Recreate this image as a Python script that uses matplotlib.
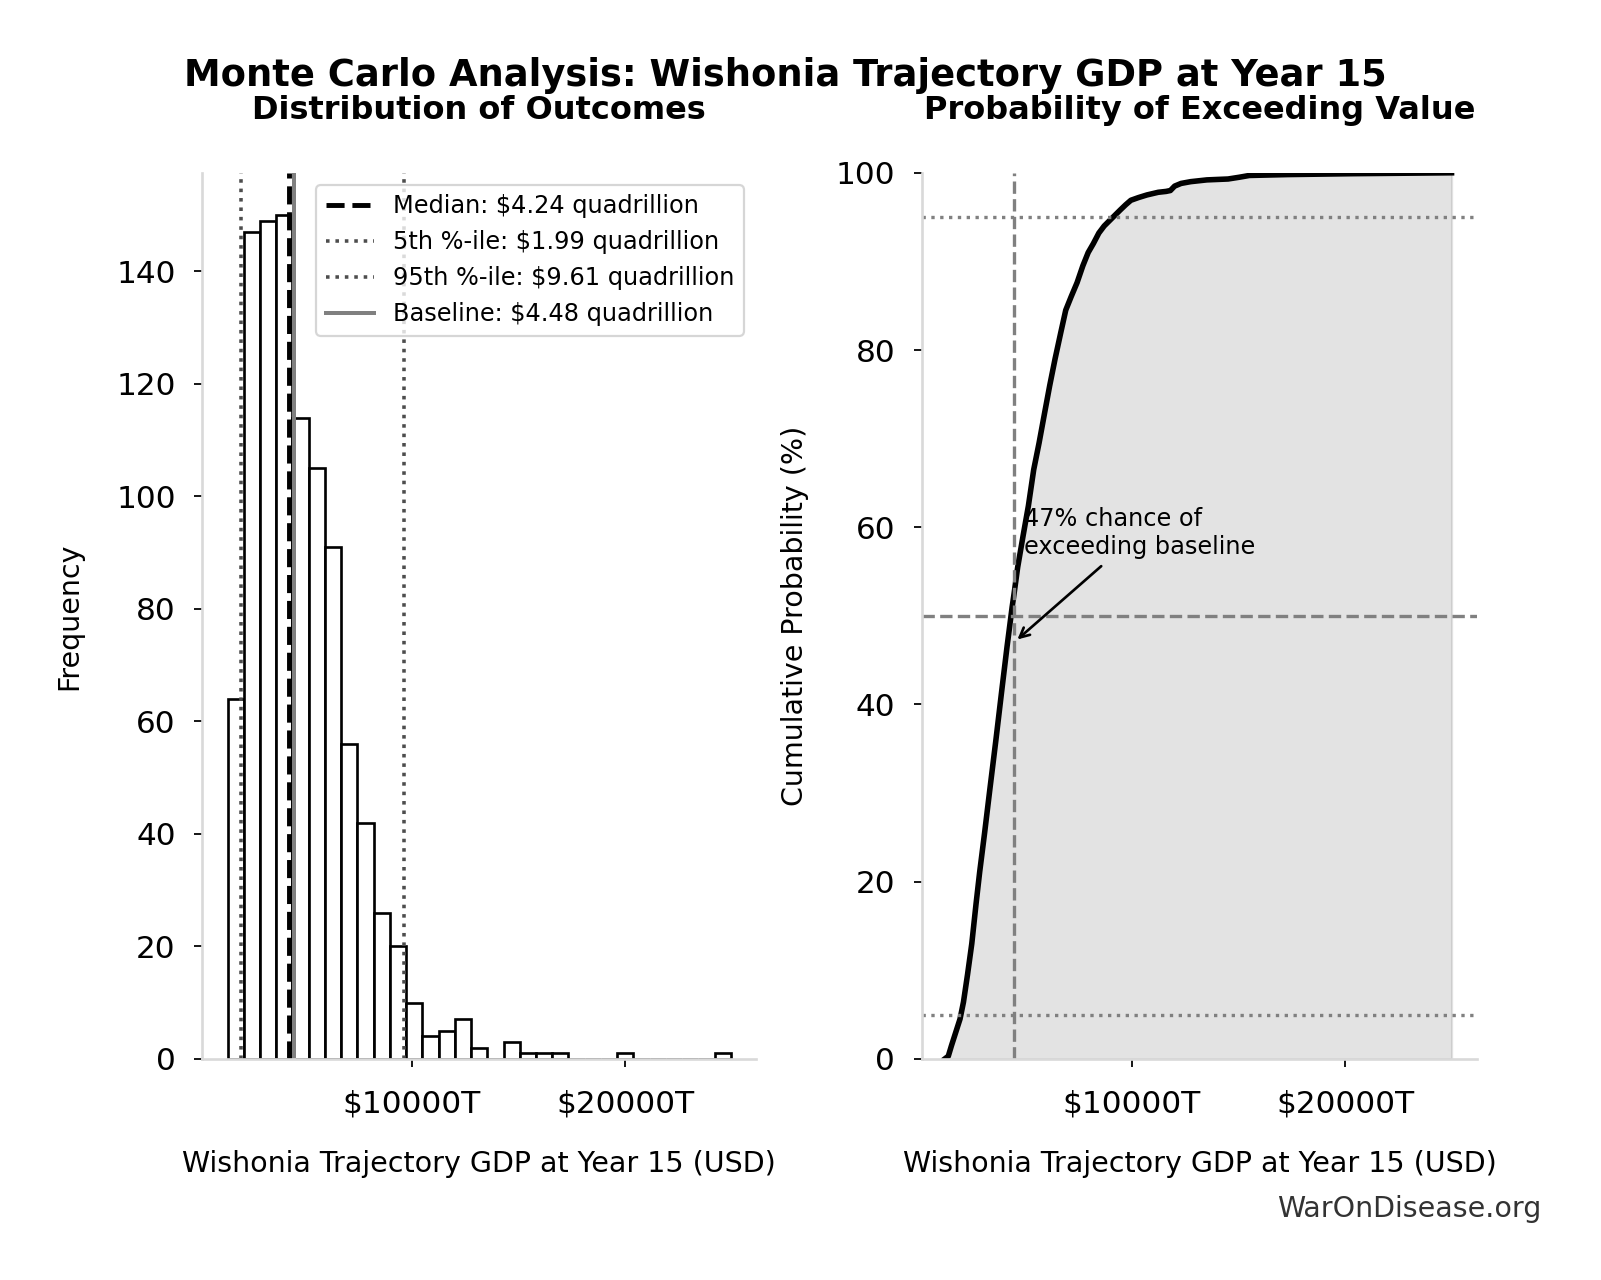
# mc_gdp_year15.py
# Monte Carlo result for Wishonia trajectory GDP at year 15: histogram + cumulative curve

import numpy as np
import matplotlib
matplotlib.use("Agg")
import matplotlib.pyplot as plt
from matplotlib.ticker import FuncFormatter

# histogram of 1000 runs (values in trillions USD), 31 equal bins from min to max
sample_min = 1350
sample_max = 24966
hist_counts = [64, 147, 149, 150, 114, 105, 91, 56, 42, 26, 20, 10, 4, 5, 7, 2,
               0, 3, 1, 1, 1, 0, 0, 0, 1, 0, 0, 0, 0, 0, 1]

# summary statistics (trillions USD)
p5 = 1990
median = 4240
p95 = 9610
baseline = 4480
pct_exceeding = 47

# cumulative curve
cdf_x = [1240, 1400, 1550, 1750, 1950, 2110, 2300, 2500, 2700, 2870, 3100, 3350,
         3630, 3900, 4150, 4390, 4480, 4650, 4900, 5150, 5400, 5650, 5910, 6150,
         6400, 6670, 6900, 7150, 7430, 7700, 7950, 8190, 8450, 8700, 8950, 9200,
         9450, 9710, 9950, 10300, 10700, 11230, 11600, 11800, 12000, 12300, 12750,
         13510, 14500, 15030, 15500, 17310, 20350, 24966]
cdf_pct = [0, 0.3, 1.5, 3, 4.5, 6.4, 9.5, 13, 17.5, 21.1, 25.5, 30.5,
           36, 41.5, 46.5, 51, 52.5, 55.5, 59, 62.4, 66.5, 69.5, 72.9, 76,
           79, 82, 84.5, 86, 87.6, 89.5, 91, 92, 93.2, 94, 94.6, 95.2,
           95.8, 96.4, 96.9, 97.2, 97.5, 97.8, 97.9, 98.0, 98.5, 98.8, 99.0,
           99.2, 99.3, 99.5, 99.7, 99.8, 99.9, 100]

usd_fmt = FuncFormatter(lambda v, pos: f"${v:.0f}T")
spine_col = "#d9d9d9"

fig = plt.figure(figsize=(1601 / 160, 8), dpi=160)
ax1 = fig.add_axes([0.1264, 0.1728, 0.3458, 0.6922])
ax2 = fig.add_axes([0.5759, 0.1728, 0.3465, 0.6922])

# ---- left: histogram ----
edges = np.linspace(sample_min, sample_max, len(hist_counts) + 1)
ax1.hist(edges[:-1], bins=edges, weights=hist_counts, color="white",
         edgecolor="black", linewidth=1.2)
ax1.axvline(median, color="black", linestyle="--", linewidth=2.2,
            label=f"Median: ${median / 1000:.2f} quadrillion")
ax1.axvline(p5, color="#4d4d4d", linestyle=":", linewidth=1.6,
            label=f"5th %-ile: ${p5 / 1000:.2f} quadrillion")
ax1.axvline(p95, color="#4d4d4d", linestyle=":", linewidth=1.6,
            label=f"95th %-ile: ${p95 / 1000:.2f} quadrillion")
ax1.axvline(baseline, color="gray", linestyle="-", linewidth=1.8,
            label=f"Baseline: ${baseline / 1000:.2f} quadrillion")
ax1.set_xlabel("Wishonia Trajectory GDP at Year 15 (USD)", fontsize=12.8, labelpad=14)
ax1.set_ylabel("Frequency", fontsize=12.8, labelpad=14.7)
ax1.set_title("Distribution of Outcomes", fontsize=14.4, fontweight="bold", pad=24)
ax1.legend(loc="upper right", fontsize=10.8)

# ---- right: cumulative probability ----
ax2.plot(cdf_x, cdf_pct, color="black", linewidth=2.5)
ax2.fill_between(cdf_x, cdf_pct, color="gray", alpha=0.22)
ax2.axvline(baseline, color="gray", linestyle="--", linewidth=1.5)
ax2.axhline(50, color="gray", linestyle="--", linewidth=1.5)
ax2.axhline(5, color="gray", linestyle=":", linewidth=1.5)
ax2.axhline(95, color="gray", linestyle=":", linewidth=1.5)
ax2.annotate(f"{pct_exceeding}% chance of\nexceeding baseline",
             xy=(baseline, pct_exceeding), xytext=(baseline * 1.1, 57),
             fontsize=10.8,
             arrowprops=dict(arrowstyle="->", color="black", lw=1.2))
ax2.set_ylim(0, 100)
ax2.set_xlabel("Wishonia Trajectory GDP at Year 15 (USD)", fontsize=12.8, labelpad=14)
ax2.set_ylabel("Cumulative Probability (%)", fontsize=12.8, labelpad=12)
ax2.set_title("Probability of Exceeding Value", fontsize=14.4, fontweight="bold", pad=24)

for ax in (ax1, ax2):
    ax.set_xlim(ax1.get_xlim())
    ax.xaxis.set_major_formatter(usd_fmt)
    ax.tick_params(labelsize=14)
    ax.tick_params(axis="y", pad=8.5)
    ax.tick_params(axis="x", pad=10.3)
    for side in ("top", "right"):
        ax.spines[side].set_visible(False)
    for side in ("left", "bottom"):
        ax.spines[side].set_color(spine_col)
        ax.spines[side].set_linewidth(1.2)

fig.text(0.4905, 0.933, "Monte Carlo Analysis: Wishonia Trajectory GDP at Year 15",
         ha="center", va="baseline", fontsize=16.6, fontweight="bold")
fig.text(0.963, 0.0492, "WarOnDisease.org", ha="right", va="baseline",
         fontsize=12.8, color="#333333")

fig.savefig("out.png", dpi=160)
